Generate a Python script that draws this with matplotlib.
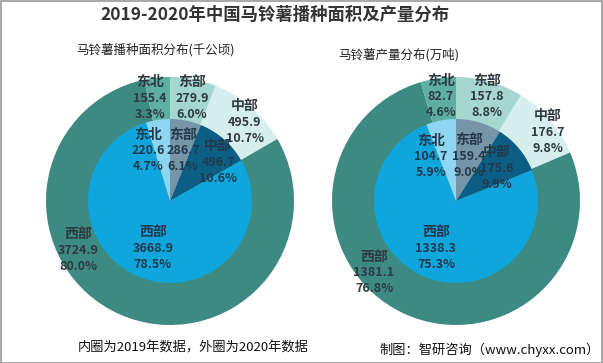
import matplotlib
matplotlib.use("Agg")
import matplotlib.pyplot as plt
from matplotlib.patches import Rectangle

plt.rcParams['font.family'] = ['Noto Sans CJK SC', 'DejaVu Sans']

regions = ['东部', '中部', '西部', '东北']

area_2020 = [279.9, 495.9, 3724.9, 155.4]
area_2020_pct = ['6.0%', '10.7%', '80.0%', '3.3%']
area_2019 = [286.7, 496.7, 3668.9, 220.6]
area_2019_pct = ['6.1%', '10.6%', '78.5%', '4.7%']

prod_2020 = [157.8, 176.7, 1381.1, 82.7]
prod_2020_pct = ['8.8%', '9.8%', '76.8%', '4.6%']
prod_2019 = [159.4, 175.6, 1338.3, 104.7]
prod_2019_pct = ['9.0%', '9.9%', '75.3%', '5.9%']

outer_colors = ['#A6D6D0', '#D6EEEC', '#3D8A82', '#5EAEA2']
inner_colors = ['#7795A9', '#0C5E85', '#0EA6DC', '#8DD5F0']

W, H = 603, 363
R = 124.0
INNER = 82.0 / R

fig = plt.figure(figsize=(W / 100, H / 100), dpi=100)
fig.patch.set_facecolor('white')

# label positions (pixel offsets from pie centre), order: 东部, 中部, 西部, 东北
left_outer_pos = [(22, 103), (75, 79), (-92, -49), (-20, 103)]
left_inner_pos = [(13, 50), (48, 39), (-17, -47), (-22, 50)]
right_outer_pos = [(31, 104), (92, 69), (-82, -72), (-15, 104)]
right_inner_pos = [(13, 45), (41, 33), (-20, -47), (-25, 44)]


def label(ax, x, y, name, v, p, color):
    ax.text(x, y + 16.5 / R, name, ha='center', va='center',
            fontsize=10, fontweight='bold', color=color)
    ax.text(x, y, f"{v:.1f}", ha='center', va='center',
            fontsize=9, fontweight='bold', color=color)
    ax.text(x, y - 16 / R, p, ha='center', va='center',
            fontsize=9, fontweight='bold', color=color)


def draw_pie(cx, cy, outer, outer_pct, inner, inner_pct, opos, ipos):
    ax = fig.add_axes([(cx - R) / W, (H - cy - R) / H, 2 * R / W, 2 * R / H])
    ax.pie(outer, colors=outer_colors, startangle=90, counterclock=False,
           radius=1.0, wedgeprops=dict(linewidth=0))
    ax.pie(inner, colors=inner_colors, startangle=90, counterclock=False,
           radius=INNER, wedgeprops=dict(linewidth=0))
    ax.set_xlim(-1, 1)
    ax.set_ylim(-1, 1)
    ax.set_aspect('equal')
    ax.axis('off')
    for name, v, p, (dx, dy) in zip(regions, outer, outer_pct, opos):
        label(ax, dx / R, dy / R, name, v, p, '#2E3A40')
    for name, v, p, (dx, dy) in zip(regions, inner, inner_pct, ipos):
        label(ax, dx / R, dy / R, name, v, p, '#23394A')


draw_pie(170, 201, area_2020, area_2020_pct, area_2019, area_2019_pct,
         left_outer_pos, left_inner_pos)
draw_pie(456, 201, prod_2020, prod_2020_pct, prod_2019, prod_2019_pct,
         right_outer_pos, right_inner_pos)

fig.text(275 / W, 1 - 15 / H, '2019-2020年中国马铃薯播种面积及产量分布', ha='center', va='center',
         fontsize=12.5, fontweight='bold', color='#333333')
fig.text(156 / W, 1 - 50 / H, '马铃薯播种面积分布(千公顷)', ha='center', va='center',
         fontsize=9, color='#222222')
fig.text(399 / W, 1 - 55 / H, '马铃薯产量分布(万吨)', ha='center', va='center',
         fontsize=9, color='#222222')
fig.text(78 / W, 1 - 348 / H, '内圈为2019年数据，外圈为2020年数据', ha='left', va='center',
         fontsize=9.5, color='#111111')
fig.text(600 / W, 1 - 350 / H, '制图：智研咨询（www.chyxx.com）', ha='right', va='center',
         fontsize=9.5, color='#111111')

fig.add_artist(Rectangle((0.5 / W, 0.5 / H), 1 - 1.5 / W, 1 - 1.5 / H,
                         transform=fig.transFigure, fill=False,
                         edgecolor='#9A9A9A', linewidth=1.2))

fig.savefig('out.png', dpi=100, facecolor='white')
